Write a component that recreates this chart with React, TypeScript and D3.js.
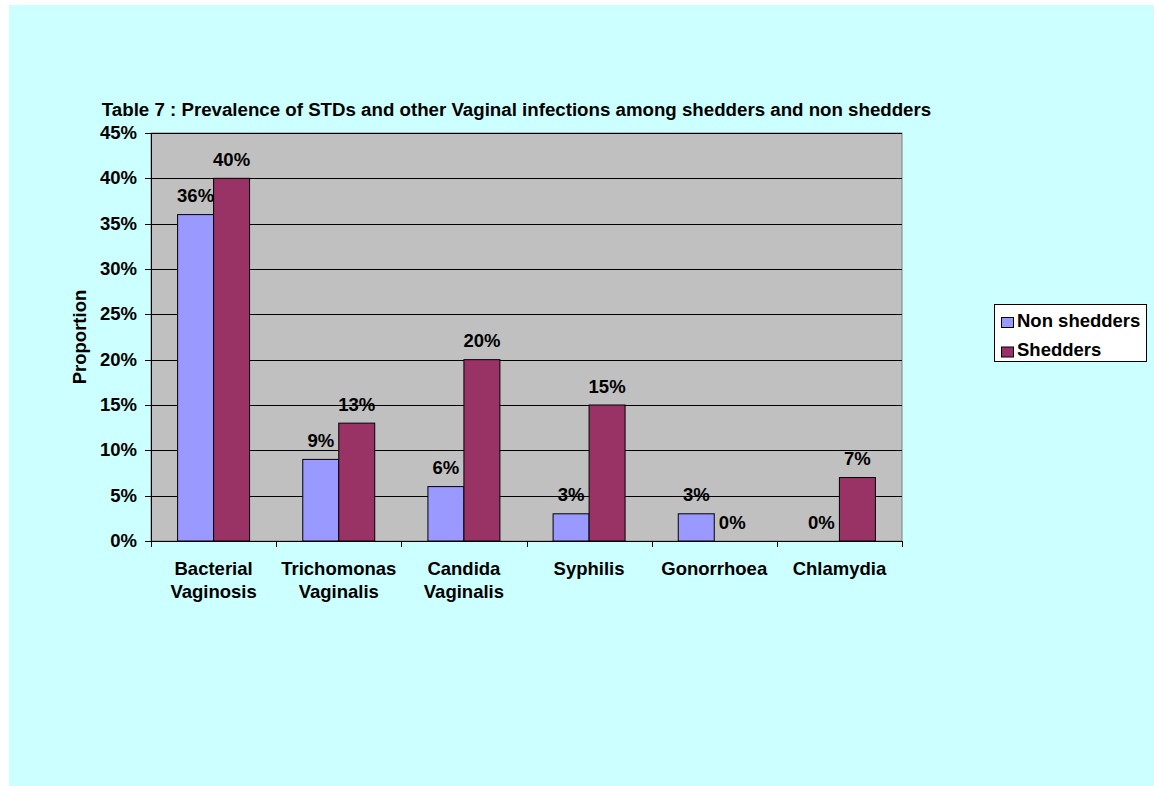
import React from "react";
import * as d3 from "d3";

const categories: string[][] = [
  ["Bacterial", "Vaginosis"],
  ["Trichomonas", "Vaginalis"],
  ["Candida", "Vaginalis"],
  ["Syphilis"],
  ["Gonorrhoea"],
  ["Chlamydia"],
];
const seriesNames = ["Non shedders", "Shedders"];
const nonShedders = [36, 9, 6, 3, 3, 0];
const shedders = [40, 13, 20, 15, 0, 7];
const yTicks = [0, 5, 10, 15, 20, 25, 30, 35, 40, 45];
const colors = ["#9999FF", "#993366"];

const title =
  "Table 7 : Prevalence of STDs and other Vaginal infections among shedders and non shedders";

const FONT = "'Liberation Sans', Arial, sans-serif";
const FS = 18.5;

export default function App() {
  const W = 1154;
  const H = 786;
  const plot = { left: 151, right: 902, top: 133, bottom: 541 };

  const y = d3.scaleLinear().domain([0, 45]).range([plot.bottom, plot.top]);
  const x = d3
    .scaleBand<number>()
    .domain(d3.range(categories.length))
    .range([plot.left, plot.right])
    .padding(0);
  const bw = x.bandwidth();
  const groupW = bw * 0.575;
  const inner = d3
    .scaleBand<number>()
    .domain([0, 1])
    .range([(bw - groupW) / 2, (bw + groupW) / 2])
    .padding(0);

  const series = [nonShedders, shedders];

  return (
    <svg
      width={W}
      height={H}
      style={{ position: "absolute", left: 0, top: 0 }}
      fontFamily={FONT}
      fontWeight="bold"
    >
      <rect x={9} y={5} width={W - 9} height={H - 5} fill="#CCFFFF" />

      <text x={516.5} y={116} fontSize={18.7} textAnchor="middle" fill="#000">
        {title}
      </text>

      {/* plot area */}
      <rect
        x={plot.left}
        y={plot.top}
        width={plot.right - plot.left}
        height={plot.bottom - plot.top}
        fill="#C0C0C0"
        stroke="#808080"
        strokeWidth={1}
      />

      {/* gridlines */}
      {yTicks.slice(1).map((t) => (
        <line
          key={"g" + t}
          x1={plot.left}
          x2={plot.right}
          y1={Math.round(y(t)) + 0.5}
          y2={Math.round(y(t)) + 0.5}
          stroke="#000"
          strokeWidth={1}
        />
      ))}

      {/* bars */}
      {series.map((vals, si) =>
        vals.map((v, ci) => {
          if (v === 0) return null;
          const bx = (x(ci) as number) + (inner(si) as number);
          return (
            <rect
              key={`b${si}-${ci}`}
              x={bx}
              y={y(v)}
              width={inner.bandwidth()}
              height={y(0) - y(v)}
              fill={colors[si]}
              stroke="#000"
              strokeWidth={1}
            />
          );
        })
      )}

      {/* value labels */}
      {series.map((vals, si) =>
        vals.map((v, ci) => {
          const cx =
            (x(ci) as number) + (inner(si) as number) + inner.bandwidth() / 2;
          return (
            <text
              key={`v${si}-${ci}`}
              x={cx}
              y={y(v) - 12.5}
              fontSize={FS}
              textAnchor="middle"
              fill="#000"
            >
              {v}%
            </text>
          );
        })
      )}

      {/* y axis */}
      <line
        x1={plot.left + 0.5}
        x2={plot.left + 0.5}
        y1={plot.top}
        y2={plot.bottom}
        stroke="#000"
      />
      {yTicks.map((t) => (
        <g key={"yt" + t}>
          <line
            x1={plot.left - 6}
            x2={plot.left}
            y1={Math.round(y(t)) + 0.5}
            y2={Math.round(y(t)) + 0.5}
            stroke="#000"
          />
          <text x={137} y={y(t) + 6} fontSize={FS} textAnchor="end" fill="#000">
            {t}%
          </text>
        </g>
      ))}

      {/* x axis */}
      <line
        x1={plot.left}
        x2={plot.right}
        y1={plot.bottom + 0.5}
        y2={plot.bottom + 0.5}
        stroke="#000"
      />
      {d3.range(categories.length + 1).map((i) => {
        const px = Math.round(plot.left + i * bw) + 0.5;
        return (
          <line
            key={"xt" + i}
            x1={px}
            x2={px}
            y1={plot.bottom}
            y2={plot.bottom + 6}
            stroke="#000"
          />
        );
      })}
      {categories.map((lines, ci) => (
        <text
          key={"xl" + ci}
          x={(x(ci) as number) + bw / 2}
          fontSize={FS}
          textAnchor="middle"
          fill="#000"
        >
          {lines.map((l, li) => (
            <tspan key={li} x={(x(ci) as number) + bw / 2} y={575 + li * 23}>
              {l}
            </tspan>
          ))}
        </text>
      ))}

      {/* axis title */}
      <text
        transform={`translate(86,337) rotate(-90)`}
        fontSize={FS}
        textAnchor="middle"
        fill="#000"
      >
        Proportion
      </text>

      {/* legend */}
      <rect
        x={994.5}
        y={304.5}
        width={152}
        height={57}
        fill="#FFFFFF"
        stroke="#000"
      />
      {seriesNames.map((name, i) => (
        <g key={"lg" + i}>
          <rect
            x={1001.5}
            y={317.5 + i * 29.5}
            width={12}
            height={10}
            fill={colors[i]}
            stroke="#000"
          />
          <text x={1017} y={327 + i * 29} fontSize={FS} fill="#000">
            {name}
          </text>
        </g>
      ))}
    </svg>
  );
}
